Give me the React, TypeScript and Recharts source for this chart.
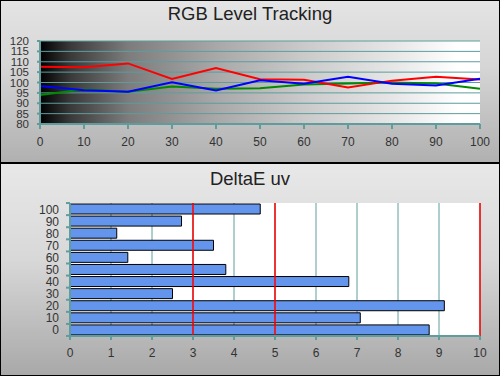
import React from "react";
import {
  LineChart,
  Line,
  BarChart,
  Bar,
  XAxis,
  YAxis,
  CartesianGrid,
  ReferenceLine,
} from "recharts";

// stimulus levels (% IRE) shared by both panels
const LEVELS = [0, 10, 20, 30, 40, 50, 60, 70, 80, 90, 100];
const RED = [107.6, 107.4, 109.2, 101.7, 107.0, 101.6, 101.3, 97.6, 100.9, 102.8, 101.4];
const GREEN = [94.0, 96.6, 95.5, 98.1, 97.0, 97.2, 99.0, 99.5, 100.0, 99.5, 97.0];
const BLUE = [98.3, 96.3, 95.5, 100.1, 96.1, 101.1, 99.4, 102.8, 99.4, 98.5, 101.8];
const DELTA_E = [8.76, 7.08, 9.13, 2.5, 6.8, 3.8, 1.41, 3.5, 1.14, 2.72, 4.64];

const RGB_TICKS = [80, 85, 90, 95, 100, 105, 110, 115, 120];
const DE_TICKS = [0, 1, 2, 3, 4, 5, 6, 7, 8, 9, 10];
const DE_LIMITS = [3, 5, 10]; // red threshold lines

const TEAL = "#5f9c9c";
const FONT = "'Liberation Sans', Arial, sans-serif";

const rgbData = LEVELS.map((lvl, i) => ({
  level: lvl,
  red: RED[i],
  green: GREEN[i],
  blue: BLUE[i],
}));
const deData = LEVELS.map((lvl, i) => ({ level: String(lvl), de: DELTA_E[i] }));

const tickStyle = { fontSize: 12, fill: "#333", fontFamily: FONT };

const titleStyle: React.CSSProperties = {
  position: "absolute",
  left: 0,
  width: 500,
  textAlign: "center",
  fontFamily: FONT,
  fontSize: 18.5,
  color: "#222",
};

// category label plus a small tick on the band edges (like the original)
function LevelTick(props: any) {
  const { x, y, payload, index } = props;
  const axisX = x + 11;
  const half = 6;
  return (
    <g>
      <text
        x={x}
        y={y}
        dy={4.5}
        textAnchor="end"
        fontSize={12}
        fill="#333"
        fontFamily={FONT}
      >
        {payload.value}
      </text>
      <line x1={axisX - 4} x2={axisX} y1={y - half} y2={y - half} stroke={TEAL} strokeWidth={2} />
      {index === 0 && (
        <line x1={axisX - 4} x2={axisX} y1={y + half} y2={y + half} stroke={TEAL} strokeWidth={2} />
      )}
    </g>
  );
}

export default function App() {
  return (
    <div
      style={{
        position: "fixed",
        left: 0,
        top: 0,
        width: 500,
        height: 376,
        overflow: "hidden",
      }}
    >
      {/* top panel */}
      <div
        style={{
          position: "absolute",
          left: 0,
          top: 0,
          width: 500,
          height: 163,
          background: "linear-gradient(#e4e4e4, #d6d6d6 40%, #b0b0b0)",
        }}
      >
        <div style={{ ...titleStyle, top: 3 }}>RGB Level Tracking</div>
        <LineChart
          width={500}
          height={163}
          data={rgbData}
          margin={{ top: 41, right: 20, bottom: 1, left: 0 }}
          style={{ position: "absolute", left: 0, top: 0 }}
        >
          <defs>
            <linearGradient id="ramp" x1="0" y1="0" x2="1" y2="0">
              <stop offset="0%" stopColor="#000" />
              <stop offset="7%" stopColor="#3a3a3a" />
              <stop offset="20%" stopColor="#7c7c7c" />
              <stop offset="40%" stopColor="#a8a8a8" />
              <stop offset="60%" stopColor="#cacaca" />
              <stop offset="80%" stopColor="#e6e6e6" />
              <stop offset="95%" stopColor="#fff" />
            </linearGradient>
          </defs>
          <CartesianGrid
            vertical={false}
            stroke={TEAL}
            strokeWidth={1}
            fill="url(#ramp)"
            fillOpacity={1}
          />
          <XAxis
            dataKey="level"
            type="number"
            domain={[0, 100]}
            ticks={LEVELS}
            height={38}
            tick={tickStyle}
            tickSize={5}
            tickMargin={8}
            axisLine={{ stroke: TEAL, strokeWidth: 2 }}
            tickLine={{ stroke: TEAL, strokeWidth: 2 }}
          />
          <YAxis
            type="number"
            domain={[80, 120]}
            ticks={RGB_TICKS}
            width={40}
            interval={0}
            tick={{ ...tickStyle, fontSize: 11.5 }}
            tickSize={3}
            tickMargin={8}
            axisLine={{ stroke: TEAL, strokeWidth: 2 }}
            tickLine={{ stroke: TEAL, strokeWidth: 2 }}
          />
          <Line dataKey="green" stroke="#008a00" strokeWidth={2} dot={false} isAnimationActive={false} />
          <Line dataKey="red" stroke="#ff0000" strokeWidth={2} dot={false} isAnimationActive={false} />
          <Line dataKey="blue" stroke="#0000ff" strokeWidth={2} dot={false} isAnimationActive={false} />
        </LineChart>
      </div>

      {/* bottom panel */}
      <div
        style={{
          position: "absolute",
          left: 0,
          top: 164,
          width: 500,
          height: 212,
          background: "linear-gradient(#e8e8e8, #d8d8d8 45%, #a8a8a8)",
        }}
      >
        <div style={{ ...titleStyle, top: 4 }}>DeltaE uv</div>
        <BarChart
          width={500}
          height={212}
          data={deData}
          layout="vertical"
          barCategoryGap={1}
          margin={{ top: 39, right: 20, bottom: 0, left: 0 }}
          style={{ position: "absolute", left: 0, top: 0 }}
        >
          <CartesianGrid horizontal={false} stroke={TEAL} fill="#fff" fillOpacity={1} />
          <XAxis
            type="number"
            domain={[0, 10]}
            ticks={DE_TICKS}
            height={40}
            tick={tickStyle}
            tickSize={4}
            tickMargin={8}
            axisLine={{ stroke: TEAL, strokeWidth: 2 }}
            tickLine={{ stroke: TEAL, strokeWidth: 2 }}
          />
          <YAxis
            type="category"
            dataKey="level"
            reversed
            width={70}
            interval={0}
            tick={<LevelTick />}
            tickLine={false}
            tickSize={0}
            tickMargin={11}
            axisLine={{ stroke: TEAL, strokeWidth: 2 }}
          />
          <Bar dataKey="de" fill="#6495ed" stroke="#000" strokeWidth={1} isAnimationActive={false} />
          {DE_LIMITS.map((v) => (
            <ReferenceLine key={v} x={v} stroke="#ff0000" strokeWidth={1.5} />
          ))}
        </BarChart>
      </div>

      {/* frame */}
      <div
        style={{
          position: "absolute",
          left: 0,
          top: 0,
          width: 500,
          height: 376,
          boxSizing: "border-box",
          border: "1px solid #000",
          pointerEvents: "none",
        }}
      />
      <div
        style={{
          position: "absolute",
          left: 0,
          top: 162,
          width: 500,
          height: 2,
          background: "#000",
        }}
      />
    </div>
  );
}
